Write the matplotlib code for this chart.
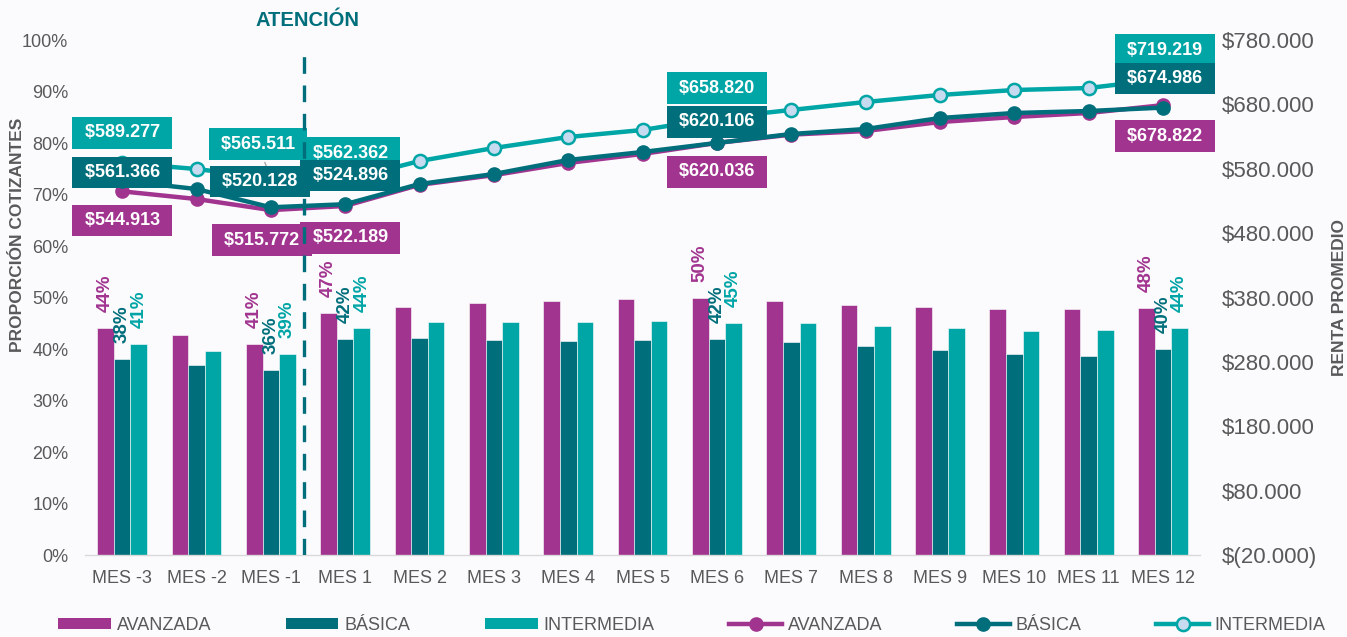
import matplotlib
matplotlib.use("Agg")
import numpy as np
import matplotlib.pyplot as plt
from matplotlib.lines import Line2D
from matplotlib.patches import Patch

# -----------------------------------------------------------------------------
# Data

categorias = ["MES -3", "MES -2", "MES -1", "MES 1", "MES 2", "MES 3", "MES 4",
              "MES 5", "MES 6", "MES 7", "MES 8", "MES 9", "MES 10", "MES 11",
              "MES 12"]

# proporcion cotizantes (barras)
avanzada_prop = [0.44, 0.427, 0.41, 0.47, 0.482, 0.489, 0.493, 0.497, 0.50,
                 0.493, 0.485, 0.482, 0.477, 0.477, 0.48]
basica_prop = [0.38, 0.369, 0.36, 0.42, 0.421, 0.417, 0.416, 0.417, 0.42,
               0.414, 0.406, 0.398, 0.39, 0.386, 0.40]
intermedia_prop = [0.41, 0.396, 0.39, 0.44, 0.452, 0.452, 0.452, 0.454, 0.45,
                   0.45, 0.445, 0.44, 0.435, 0.437, 0.44]

# renta promedio (lineas)
avanzada_renta = [544913, 533000, 515772, 522189, 555000, 570000, 589000,
                  603000, 620036, 633000, 638600, 652600, 660400, 666600, 678822]
basica_renta = [561366, 548500, 520128, 524896, 556300, 571800, 593600,
                606000, 620106, 634000, 641700, 658800, 666600, 669700, 674986]
intermedia_renta = [589277, 579600, 565511, 562362, 592000, 612200, 629300,
                    640200, 658820, 671300, 683700, 694600, 702300, 705400,
                    719219]

# meses con etiquetas
idx_etiquetas = [0, 2, 3, 8, 14]

left_ticks = [i / 10 for i in range(11)]
left_ticklabels = [f"{i * 10}%" for i in range(11)]
right_ticks = [-20000, 80000, 180000, 280000, 380000, 480000, 580000, 680000,
               780000]
right_ticklabels = ["$(20.000)", "$80.000", "$180.000", "$280.000",
                    "$380.000", "$480.000", "$580.000", "$680.000",
                    "$780.000"]

# -----------------------------------------------------------------------------
# Style

MORADO = "#A1348F"
PETROLEO = "#006F7B"
TURQUESA = "#00A5A6"
CELESTE = "#C6DAF0"
GRIS = "#595959"
FONDO = "#FBFAFD"

plt.rcParams["font.family"] = ["Liberation Sans", "DejaVu Sans"]


def fmt_peso(v):
    # espacios para ensanchar la caja como en el original
    return " $" + f"{v:,.0f}".replace(",", ".") + " "


# -----------------------------------------------------------------------------
# Plot

fig = plt.figure(figsize=(13.47, 6.37), dpi=100, facecolor=FONDO)
ax = fig.add_axes([0.0631, 0.1287, 0.8278, 0.8085], facecolor=FONDO)
ax2 = ax.twinx()

x = np.arange(len(categorias))
w = 0.224

series_bar = [(avanzada_prop, MORADO, -w), (basica_prop, PETROLEO, 0),
              (intermedia_prop, TURQUESA, w)]
for vals, color, off in series_bar:
    ax.bar(x + off, vals, width=w, color=color, edgecolor="white",
           linewidth=0.4, zorder=2)
    for i in idx_etiquetas:
        ax.annotate(f"{vals[i] * 100:.0f}%", (x[i] + off, vals[i]),
                    xytext=(0, 16), textcoords="offset pixels", rotation=90,
                    ha="center", va="bottom", fontsize=13.5,
                    fontweight="bold", color=color)

ax.set_xlim(-0.5, len(categorias) - 0.5)
ax.set_ylim(0, 1.0)
ax.set_yticks(left_ticks)
ax.set_yticklabels(left_ticklabels)
ax.set_xticks(x)
ax.set_xticklabels(categorias)
ax.tick_params(axis="both", length=0, labelsize=13, colors=GRIS)
ax.tick_params(axis="y", pad=12)
ax.tick_params(axis="x", pad=11)

# lineas
ax2.plot(x, avanzada_renta, color=MORADO, lw=3.2, marker="o", ms=9.5,
         mfc=MORADO, mec=MORADO, zorder=3)
ax2.plot(x, basica_renta, color=PETROLEO, lw=3.2, marker="o", ms=9.5,
         mfc=PETROLEO, mec=PETROLEO, zorder=4)
ax2.plot(x, intermedia_renta, color=TURQUESA, lw=3.2, marker="o", ms=9.5,
         mfc=CELESTE, mec=TURQUESA, mew=1.8, zorder=5)
ax2.set_ylim(-20000, 780000)
ax2.set_yticks(right_ticks)
ax2.set_yticklabels(right_ticklabels)
ax2.tick_params(axis="y", length=0, labelsize=16, colors=GRIS, pad=16)

for a in (ax, ax2):
    for s in a.spines.values():
        s.set_visible(False)
ax.spines["bottom"].set_visible(True)
ax.spines["bottom"].set_color("#D9D9D9")
ax.spines["bottom"].set_linewidth(1)

# etiquetas de renta (desplazamientos en pixeles)
offsets = {
    0: [(0, 30), (0, 8), (0, -29)],
    2: [(-13, 34), (-11, 26), (-9, -30)],
    3: [(5, 27), (5, 29), (5, -32)],
    8: [(0, 30), (0, 21), (0, -29)],
    14: [(2, 29), (2, 29), (2, -31)],
}
for i in idx_etiquetas:
    di, db, da = offsets[i]
    z = 10 + i
    ax2.annotate(fmt_peso(avanzada_renta[i]), (x[i], avanzada_renta[i]),
                 xytext=da, textcoords="offset pixels", ha="center",
                 va="center", fontsize=13, fontweight="bold", color="white",
                 bbox=dict(boxstyle="square,pad=0.4", fc=MORADO, ec="none"),
                 zorder=z)
    ax2.annotate(fmt_peso(intermedia_renta[i]), (x[i], intermedia_renta[i]),
                 xytext=di, textcoords="offset pixels", ha="center",
                 va="center", fontsize=13, fontweight="bold", color="white",
                 bbox=dict(boxstyle="square,pad=0.4", fc=TURQUESA, ec="none"),
                 arrowprops=dict(arrowstyle="-", color="#A6A6A6", lw=1)
                 if i == 2 else None,
                 zorder=z)
    ax2.annotate(fmt_peso(basica_renta[i]), (x[i], basica_renta[i]),
                 xytext=db, textcoords="offset pixels", ha="center",
                 va="center", fontsize=13, fontweight="bold", color="white",
                 bbox=dict(boxstyle="square,pad=0.4", fc=PETROLEO, ec="none"),
                 zorder=z)

# linea de atencion
ax2.axvline(2.45, ymin=0, ymax=0.99, color=PETROLEO, lw=2.4,
            dashes=(5, 3.5), zorder=40)
fig.text(307 / 1347, 1 - 20 / 637, "ATENCIÓN", ha="center", va="center",
         fontsize=14.5, fontweight="bold", color=PETROLEO)

fig.text(18 / 1347, 1 - 235 / 637, "PROPORCIÓN COTIZANTES", rotation=90,
         ha="center", va="center", fontsize=12.5, fontweight="bold",
         color=GRIS)
fig.text(1340 / 1347, 1 - 298 / 637, "RENTA PROMEDIO", rotation=90,
         ha="center", va="center", fontsize=12.5, fontweight="bold",
         color=GRIS)

# leyenda
handles = [
    Patch(facecolor=MORADO, label="AVANZADA"),
    Patch(facecolor=PETROLEO, label="BÁSICA"),
    Patch(facecolor=TURQUESA, label="INTERMEDIA"),
    Line2D([], [], color=MORADO, lw=3.2, marker="o", ms=9.5, mfc=MORADO,
           mec=MORADO, label="AVANZADA"),
    Line2D([], [], color=PETROLEO, lw=3.2, marker="o", ms=9.5, mfc=PETROLEO,
           mec=PETROLEO, label="BÁSICA"),
    Line2D([], [], color=TURQUESA, lw=3.2, marker="o", ms=9.5, mfc=CELESTE,
           mec=TURQUESA, mew=1.8, label="INTERMEDIA"),
]
leg = fig.legend(handles=handles, loc="center", ncol=6,
                 bbox_to_anchor=(692 / 1347, 12 / 637), frameon=False,
                 fontsize=13, handlelength=2.9, handleheight=0.55,
                 handletextpad=0.33, columnspacing=4.15, borderaxespad=0,
                 borderpad=0)
for t in leg.get_texts():
    t.set_color(GRIS)

fig.savefig("out.png", dpi=100, facecolor=FONDO)
